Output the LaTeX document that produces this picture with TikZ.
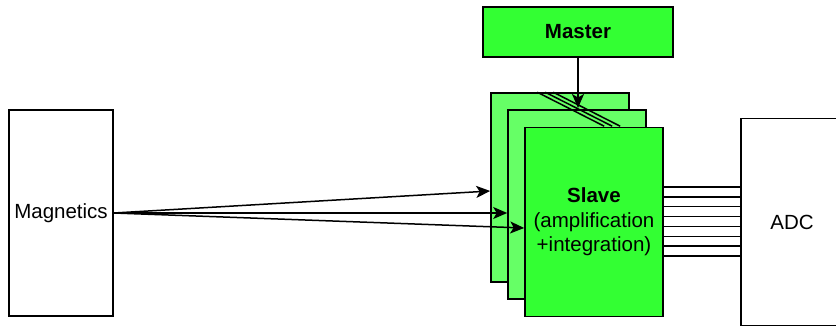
\documentclass[tikz,border=0pt]{standalone}
\usepackage{fontspec}
\setmainfont{Liberation Sans}
\usetikzlibrary{arrows.meta,calc}
\definecolor{slavegreen}{HTML}{33FF33}
\definecolor{backgreen}{HTML}{66FF66}
\tikzset{
  blk/.style={draw=black, line width=1.6pt, rectangle, inner sep=0pt, align=center,
    font=\fontsize{20.5}{24.5}\selectfont},
  arr/.style={draw=black, line width=1.5pt,
    -{Stealth[length=14pt,width=12pt,inset=3.5pt]}},
  bus/.style={draw=black, line width=1.3pt},
  link/.style={draw=black, line width=1.5pt},
}
\begin{document}
\begin{tikzpicture}[x=1pt,y=-1pt]
  \useasboundingbox (0,0) rectangle (836,327);
  \begin{scope}
    \clip (0,0) rectangle (836,327);
    % side boxes
    \node[blk, minimum width=104pt, minimum height=206pt] (mag) at (61,213) {Magnetics};
    \node[blk, minimum width=102pt, minimum height=207pt] (adc) at (792,222) {ADC};
    % master controller
    \node[blk, fill=slavegreen, minimum width=190pt, minimum height=50pt] (master) at (578,32) {\textbf{Master}};
    % stacked slave boards
    \node[blk, fill=backgreen, minimum width=138pt, minimum height=189pt] (slave1) at (560,187.5) {};
    \node[blk, fill=backgreen, minimum width=138pt, minimum height=189pt] (slave2) at (577,204.5) {};
    % control link across the stack
    \foreach \dx in {0,8,16} {
      \draw[link] ($(slave1.north west)+(47+\dx,0)$) -- ($(slave1.north west)+(114+\dx,34)$);
    }
    \node[blk, fill=slavegreen, minimum width=138pt, minimum height=189pt] (slave3) at (594,222)
      {\textbf{Slave}\\(amplification\\+integration)};
    % master to slaves
    \coordinate (mtip) at (578,108);
    \draw[arr] (master.south) -- (mtip);
    % sensor inputs
    \draw[arr] (mag.east) -- ($(slave1.west)+(0,3.5)$);
    \draw[arr] (mag.east) -- ($(slave2.west)+(0,8.5)$);
    \draw[arr] (mag.east) -- ($(slave3.west)+(0,6)$);
    % parallel outputs to the converter
    \foreach \i in {0,...,7} {
      \draw[bus] ([yshift={(35-\i*9.857)*1pt}]slave3.east) -- ([yshift={(35-\i*9.857)*1pt}]adc.west);
    }
  \end{scope}
\end{tikzpicture}
\end{document}
